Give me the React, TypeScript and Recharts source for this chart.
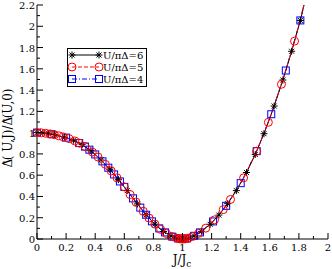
import React from 'react';
import { LineChart, Line, XAxis, YAxis } from 'recharts';

// x ticks (major every 0.2, minor every 0.1)
const xTicks = [0, 0.1, 0.2, 0.3, 0.4, 0.5, 0.6, 0.7, 0.8, 0.9, 1, 1.1, 1.2, 1.3, 1.4, 1.5, 1.6, 1.7, 1.8, 1.9, 2];
const yTicks = [0, 0.1, 0.2, 0.3, 0.4, 0.5, 0.6, 0.7, 0.8, 0.9, 1, 1.1, 1.2, 1.3, 1.4, 1.5, 1.6, 1.7, 1.8, 1.9, 2, 2.1, 2.2];

// U/piDelta = 6 (stars)
const j6 = [0, 0.04, 0.08, 0.12, 0.19, 0.25, 0.31, 0.37, 0.44, 0.5, 0.56, 0.62, 0.69, 0.75, 0.81, 0.87, 0.92, 0.96, 0.99, 1.0, 1.01, 1.04, 1.08, 1.13, 1.19, 1.25, 1.31, 1.37, 1.44, 1.5, 1.56, 1.63, 1.69, 1.75, 1.81, 1.835];
const d6 = [1.0, 0.998, 0.99, 0.98, 0.957, 0.928, 0.887, 0.83, 0.743, 0.655, 0.558, 0.455, 0.33, 0.228, 0.14, 0.07, 0.03, 0.008, 0.001, 0.0, 0.001, 0.008, 0.03, 0.072, 0.138, 0.225, 0.332, 0.455, 0.625, 0.795, 0.99, 1.25, 1.495, 1.765, 2.055, 2.2];

// U/piDelta = 5 (circles)
const j5 = [0, 0.03, 0.06, 0.09, 0.12, 0.15, 0.18, 0.22, 0.26, 0.29, 0.33, 0.38, 0.42, 0.47, 0.51, 0.55, 0.6, 0.64, 0.68, 0.73, 0.77, 0.81, 0.85, 0.89, 0.93, 0.96, 0.98, 0.99, 1.0, 1.01, 1.02, 1.04, 1.07, 1.11, 1.16, 1.22, 1.28, 1.33, 1.42, 1.51, 1.59, 1.68, 1.77, 1.835];
const d5 = [1.0, 0.998, 0.994, 0.988, 0.98, 0.97, 0.96, 0.944, 0.922, 0.902, 0.869, 0.818, 0.77, 0.702, 0.64, 0.575, 0.49, 0.418, 0.347, 0.261, 0.197, 0.14, 0.09, 0.051, 0.022, 0.008, 0.002, 0.001, 0.0, 0.001, 0.002, 0.008, 0.024, 0.052, 0.102, 0.18, 0.276, 0.372, 0.575, 0.826, 1.097, 1.455, 1.86, 2.2];

// U/piDelta = 4 (squares)
const j4 = [0, 0.1, 0.2, 0.29, 0.33, 0.36, 0.4, 0.45, 0.49, 0.53, 0.57, 0.6, 0.66, 0.71, 0.75, 0.79, 0.84, 0.88, 0.93, 0.97, 1.0, 1.03, 1.08, 1.12, 1.21, 1.3, 1.4, 1.51, 1.61, 1.71, 1.81, 1.835];
const d4 = [1.0, 0.985, 0.953, 0.902, 0.869, 0.84, 0.795, 0.73, 0.67, 0.607, 0.541, 0.49, 0.382, 0.295, 0.228, 0.166, 0.1, 0.062, 0.022, 0.005, 0.0, 0.005, 0.03, 0.062, 0.165, 0.312, 0.525, 0.826, 1.173, 1.584, 2.055, 2.2];

const zip = (js: number[], ds: number[]) => js.map((j, i) => ({ j, d: ds[i] }));
const set6 = zip(j6, d6);
const set5 = zip(j5, d5);
const set4 = zip(j4, d4);

const FONT = 'DejaVu Serif';
const isMajor = (v: number) => Math.round(v * 10) % 2 === 0;
const fmt = (v: number) => String(Math.round(v * 10) / 10);

const BottomTick = ({ x, y, payload }: any) => {
  const v = payload.value;
  return (
    <g>
      <line x1={x} y1={y} x2={x} y2={y - (isMajor(v) ? 6 : 3)} stroke="#000" />
      {isMajor(v) && (
        <text x={x} y={y + 12} textAnchor="middle" fontSize={10} fontFamily={FONT} fill="#000">
          {fmt(v)}
        </text>
      )}
    </g>
  );
};

const TopTick = ({ x, y, payload }: any) => (
  <line x1={x} y1={y} x2={x} y2={y + (isMajor(payload.value) ? 6 : 3)} stroke="#000" />
);

const LeftTick = ({ x, y, payload }: any) => {
  const v = payload.value;
  return (
    <g>
      <line x1={x} y1={y} x2={x + (isMajor(v) ? 6 : 3)} y2={y} stroke="#000" />
      {isMajor(v) && (
        <text x={x - 2} y={y + 4} textAnchor="end" fontSize={10} fontFamily={FONT} fill="#000">
          {fmt(v)}
        </text>
      )}
    </g>
  );
};

const RightTick = ({ x, y, payload }: any) => (
  <line x1={x} y1={y} x2={x - (isMajor(payload.value) ? 6 : 3)} y2={y} stroke="#000" />
);

// no marker where the curve runs out through the top of the frame
const offTop = (p: any) => p && p.payload && p.payload.d >= 2.2;

const Star = (p: any) => {
  const { cx, cy, index } = p;
  if (cx == null || cy == null || offTop(p)) return <g key={index} />;
  const r = 3.5;
  const q = 2.5;
  return (
    <g key={index} stroke="#000" strokeWidth={1}>
      <line x1={cx - r} y1={cy} x2={cx + r} y2={cy} />
      <line x1={cx} y1={cy - r} x2={cx} y2={cy + r} />
      <line x1={cx - q} y1={cy - q} x2={cx + q} y2={cy + q} />
      <line x1={cx - q} y1={cy + q} x2={cx + q} y2={cy - q} />
    </g>
  );
};

const Circ = (p: any) => {
  const { cx, cy, index } = p;
  if (cx == null || cy == null || offTop(p)) return <g key={index} />;
  return <circle key={index} cx={cx} cy={cy} r={4} fill="none" stroke="#ff0000" strokeWidth={1} />;
};

const Sq = (p: any) => {
  const { cx, cy, index } = p;
  if (cx == null || cy == null || offTop(p)) return <g key={index} />;
  return <rect key={index} x={cx - 3.5} y={cy - 3.5} width={7} height={7} fill="none" stroke="#0000ff" strokeWidth={1} />;
};

export default function App() {
  return (
    <div style={{ position: 'absolute', left: 0, top: 0, width: 332, height: 269, background: '#fff' }}>
      <LineChart width={332} height={269} margin={{ top: 5, right: 4, left: 7, bottom: 10 }}>
        <XAxis
          xAxisId="b"
          dataKey="j"
          type="number"
          domain={[0, 2]}
          ticks={xTicks}
          interval={0}
          height={20}
          tickSize={0}
          tickMargin={0}
          tickLine={false}
          tick={<BottomTick />}
          axisLine={{ stroke: '#000' }}
        />
        <XAxis
          xAxisId="t"
          orientation="top"
          dataKey="j"
          type="number"
          domain={[0, 2]}
          ticks={xTicks}
          interval={0}
          height={0}
          tickSize={0}
          tickMargin={0}
          tickLine={false}
          tick={<TopTick />}
          axisLine={{ stroke: '#000' }}
        />
        <YAxis
          yAxisId="l"
          type="number"
          domain={[0, 2.2]}
          ticks={yTicks}
          interval={0}
          width={30}
          tickSize={0}
          tickMargin={0}
          tickLine={false}
          tick={<LeftTick />}
          axisLine={{ stroke: '#000' }}
        />
        <YAxis
          yAxisId="r"
          orientation="right"
          type="number"
          domain={[0, 2.2]}
          ticks={yTicks}
          interval={0}
          width={0}
          tickSize={0}
          tickMargin={0}
          tickLine={false}
          tick={<RightTick />}
          axisLine={{ stroke: '#000' }}
        />
        <Line
          xAxisId="b"
          yAxisId="l"
          data={set4}
          dataKey="d"
          stroke="#0000ff"
          strokeWidth={1}
          strokeDasharray="5 2 1 2"
          dot={Sq}
          activeDot={false}
          isAnimationActive={false}
        />
        <Line
          xAxisId="b"
          yAxisId="l"
          data={set6}
          dataKey="d"
          stroke="#000"
          strokeWidth={1}
          dot={Star}
          activeDot={false}
          isAnimationActive={false}
        />
        <Line
          xAxisId="b"
          yAxisId="l"
          data={set5}
          dataKey="d"
          stroke="#ff0000"
          strokeWidth={1}
          strokeDasharray="4 2"
          dot={Circ}
          activeDot={false}
          isAnimationActive={false}
        />
      </LineChart>
      <svg width={332} height={269} style={{ position: 'absolute', left: 0, top: 0, pointerEvents: 'none' }}>
        <text
          transform="translate(12,128) rotate(-90)"
          textAnchor="middle"
          fontSize={12}
          fontFamily={FONT}
          fill="#000"
        >
          Δ<tspan dx={-7} fontSize={11}>˜</tspan>
          <tspan dx={0}>( U,J)/Δ</tspan>
          <tspan dx={-7} fontSize={11}>˜</tspan>
          <tspan>(U,0)</tspan>
        </text>
        <text x={182} y={264} textAnchor="middle" fontSize={12} fontFamily={FONT} fill="#000">
          J/J
          <tspan fontSize={9} dy={3}>c</tspan>
        </text>
        <g>
          <rect x={67.5} y={48.5} width={79} height={38} fill="#fff" stroke="#000" strokeWidth={1} />
          <line x1={72} y1={55} x2={99} y2={55} stroke="#000" />
          <Star cx={72} cy={55} index="a" />
          <Star cx={99} cy={55} index="b" />
          <text x={103} y={59} fontSize={10} fontFamily={FONT} fill="#000">U/πΔ=6</text>
          <line x1={72} y1={67} x2={99} y2={67} stroke="#ff0000" strokeDasharray="4 2" />
          <Circ cx={72} cy={67} index="c" />
          <Circ cx={99} cy={67} index="d" />
          <text x={103} y={71} fontSize={10} fontFamily={FONT} fill="#000">U/πΔ=5</text>
          <line x1={72} y1={79} x2={99} y2={79} stroke="#0000ff" strokeDasharray="5 2 1 2" />
          <Sq cx={72} cy={79} index="e" />
          <Sq cx={99} cy={79} index="f" />
          <text x={103} y={83} fontSize={10} fontFamily={FONT} fill="#000">U/πΔ=4</text>
        </g>
      </svg>
    </div>
  );
}
